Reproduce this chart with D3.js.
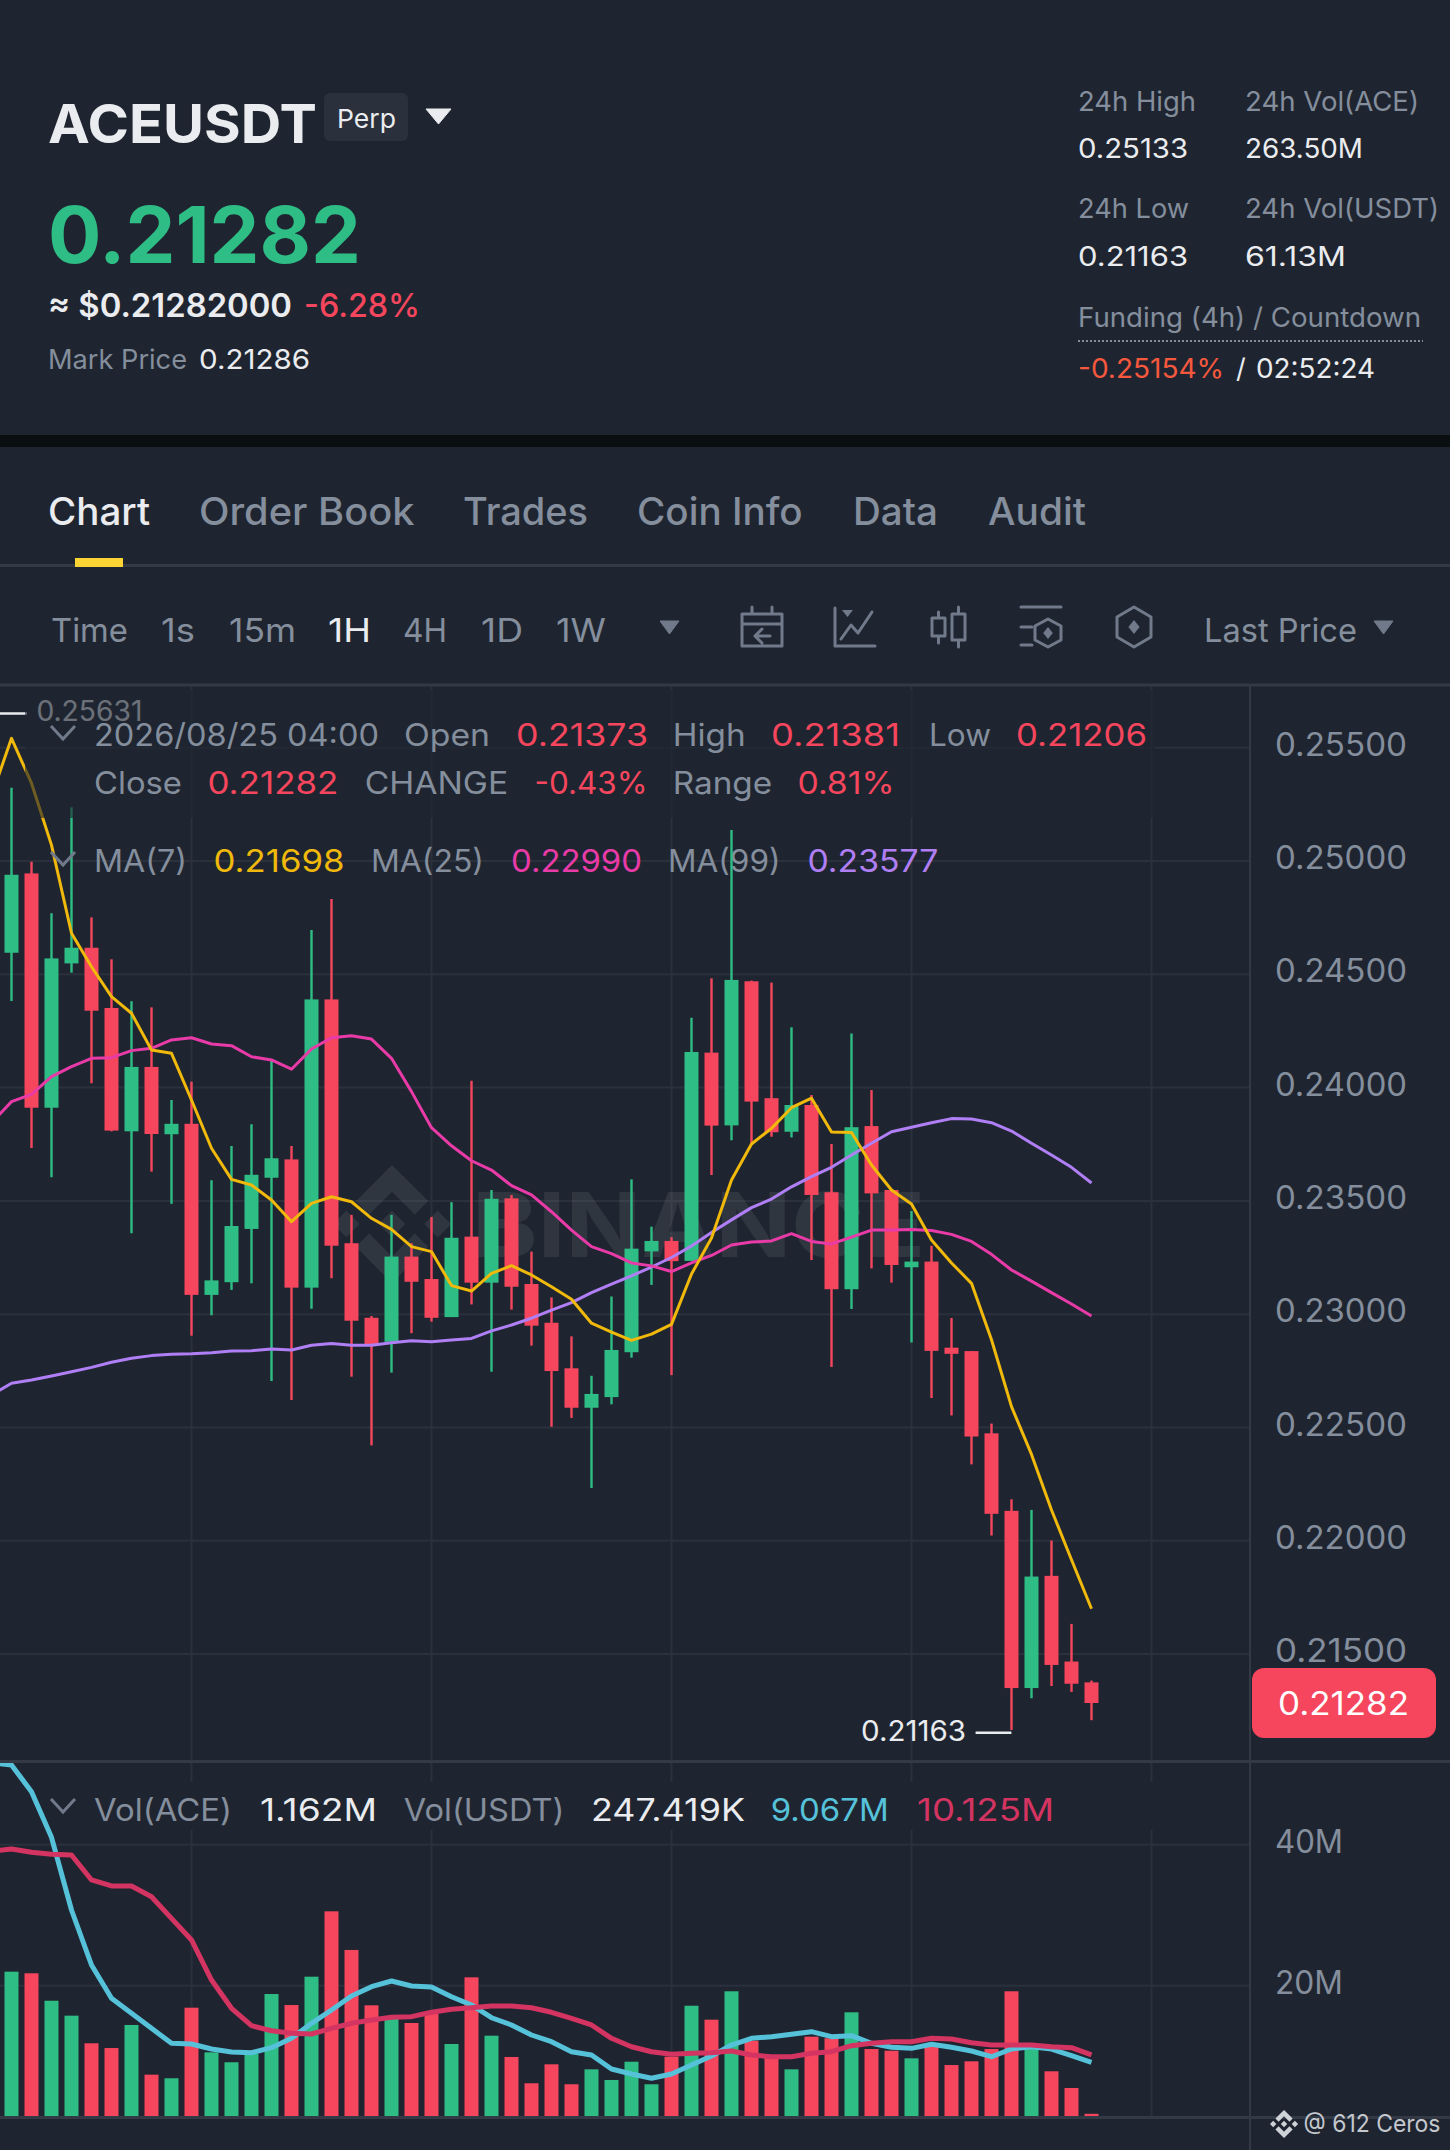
<!DOCTYPE html>
<html>
<head>
<meta charset="utf-8">
<title>ACEUSDT Perp</title>
<script src="https://cdn.jsdelivr.net/npm/d3@7"></script>
<style>
  body { margin: 0; background: #1f2530; }
  svg { display: block; }
  text { font-family: Inter, "Noto Sans", sans-serif; }
</style>
</head>
<body>
<svg id="chart"></svg>
<script>
// candles, oldest first, one per hour
const opens = [0.24593,0.24943,0.23909,0.24546,0.24615,0.24349,0.23805,0.24089,0.23792,0.23838,0.23083,0.23139,0.23374,0.23600,0.23681,0.23115,0.24387,0.23311,0.22982,0.22876,0.23252,0.23153,0.22985,0.23340,0.23137,0.23509,0.23131,0.22960,0.22759,0.22585,0.22632,0.22830,0.23275,0.23321,0.23233,0.24152,0.23831,0.24467,0.23951,0.23803,0.23921,0.23536,0.23108,0.23828,0.23546,0.23205,0.23230,0.22850,0.22835,0.22472,0.22130,0.21348,0.21843,0.21465,0.21373];
const highs = [0.25321,0.24995,0.24767,0.25235,0.24749,0.24564,0.24379,0.24352,0.23943,0.24024,0.23589,0.23740,0.23836,0.24115,0.23740,0.24693,0.24830,0.23436,0.22990,0.23436,0.23311,0.23427,0.23492,0.24028,0.23546,0.23524,0.23274,0.23072,0.22900,0.22726,0.23076,0.23593,0.23384,0.23338,0.24306,0.24480,0.25135,0.24470,0.24461,0.24264,0.23965,0.23749,0.24237,0.23987,0.23546,0.23453,0.23300,0.22981,0.22835,0.22515,0.22181,0.22134,0.21999,0.21631,0.21381];
const lows = [0.24380,0.23731,0.23602,0.24505,0.24017,0.23805,0.23355,0.23627,0.23485,0.22903,0.22993,0.23105,0.23134,0.22703,0.22619,0.23022,0.23156,0.22722,0.22419,0.22740,0.22914,0.22965,0.22985,0.23041,0.22744,0.23018,0.22859,0.22501,0.22540,0.22231,0.22600,0.22806,0.23127,0.22729,0.23233,0.23612,0.23765,0.23752,0.23781,0.23778,0.23237,0.22765,0.23021,0.23200,0.23137,0.22873,0.22628,0.22551,0.22335,0.22021,0.21163,0.21303,0.21357,0.21331,0.21206];
const closes = [0.24937,0.23909,0.24568,0.24615,0.24337,0.23808,0.24089,0.23793,0.23838,0.23083,0.23147,0.23387,0.23613,0.23686,0.23115,0.24387,0.23300,0.22969,0.22862,0.23252,0.23141,0.22982,0.23335,0.23137,0.23507,0.23119,0.22947,0.22747,0.22585,0.22646,0.22840,0.23287,0.23321,0.23232,0.24155,0.23830,0.24473,0.23936,0.23801,0.23921,0.23524,0.23108,0.23823,0.23531,0.23215,0.23230,0.22836,0.22823,0.22458,0.22117,0.21348,0.21840,0.21450,0.21367,0.21282];
// volume in millions of ACE
const volumes = [21.79,21.56,17.67,15.55,11.63,10.96,14.23,7.18,6.67,16.68,10.35,8.94,10.11,18.62,17.06,21.08,30.35,24.87,17.02,15.08,14.51,15.79,11.53,20.99,12.71,9.69,5.96,8.65,5.82,7.94,6.43,9.02,5.82,9.73,16.96,14.98,19.01,12.00,9.97,7.94,12.57,12.34,16.03,10.82,10.58,9.50,11.53,8.55,9.08,10.82,19.01,11.29,7.66,5.29,1.162];

// moving averages start one candle earlier, off the left edge
const ma7 = [0.25285,0.25539,0.25341,0.25068,0.24679,0.24531,0.24399,0.24326,0.24164,0.24149,0.23943,0.23730,0.23593,0.23568,0.23502,0.23406,0.23487,0.23516,0.23494,0.23421,0.23372,0.23296,0.23274,0.23124,0.23100,0.23178,0.23212,0.23171,0.23119,0.23064,0.22958,0.22919,0.22882,0.22910,0.22953,0.23175,0.23334,0.23590,0.23749,0.23818,0.23909,0.23951,0.23802,0.23800,0.23656,0.23546,0.23484,0.23325,0.23224,0.23134,0.22885,0.22590,0.22379,0.22134,0.21914,0.21698];
const ma25 = [0.23842,0.23936,0.23968,0.24046,0.24090,0.24127,0.24130,0.24161,0.24171,0.24208,0.24218,0.24190,0.24183,0.24134,0.24120,0.24079,0.24168,0.24218,0.24227,0.24212,0.24127,0.23980,0.23821,0.23741,0.23675,0.23634,0.23565,0.23524,0.23450,0.23369,0.23296,0.23265,0.23224,0.23211,0.23186,0.23224,0.23257,0.23303,0.23316,0.23321,0.23353,0.23319,0.23308,0.23338,0.23369,0.23369,0.23372,0.23367,0.23350,0.23319,0.23262,0.23193,0.23144,0.23093,0.23043,0.22990];
const ma99 = [0.22641,0.22693,0.22707,0.22725,0.22744,0.22763,0.22786,0.22803,0.22815,0.22821,0.22823,0.22828,0.22835,0.22837,0.22844,0.22840,0.22861,0.22868,0.22861,0.22861,0.22872,0.22881,0.22876,0.22884,0.22891,0.22924,0.22950,0.22980,0.23016,0.23049,0.23093,0.23131,0.23167,0.23206,0.23248,0.23299,0.23358,0.23414,0.23468,0.23506,0.23560,0.23605,0.23646,0.23700,0.23752,0.23803,0.23823,0.23843,0.23861,0.23859,0.23843,0.23806,0.23752,0.23700,0.23646,0.23577];
const volMaAce = [51.53,51.25,47.46,40.99,30.68,22.88,18.16,16.03,13.90,11.77,11.67,10.96,10.54,10.44,11.15,12.48,14.61,16.50,18.48,19.80,20.61,19.90,19.76,18.38,17.21,15.40,14.37,12.95,12.00,10.58,10.11,8.13,7.42,6.81,7.42,8.70,9.97,11.53,12.48,12.71,13.05,13.42,12.71,12.85,11.77,11.21,11.06,11.63,11.21,10.68,9.87,10.96,11.29,10.96,10.01,9.067];
const volMaUsdt = [39.05,39.33,38.87,38.58,38.48,34.94,34.09,34.09,32.57,29.50,26.43,20.75,16.74,14.27,13.56,13.19,13.09,13.90,14.61,15.08,15.46,15.55,16.17,16.60,16.82,17.06,17.06,16.82,16.17,15.32,14.37,12.48,11.29,10.58,10.21,10.35,10.44,10.68,10.11,9.87,9.87,10.35,10.58,11.43,11.77,12.00,12.00,12.48,12.38,11.86,11.53,11.53,11.53,11.29,11.15,10.125];

// axis ticks
const priceTicks = [0.255,0.25,0.245,0.24,0.235,0.23,0.225,0.22,0.215];
const volumeTicks = [40,20];
const timeGridIndex = [9,21,33,45,57];

const GREEN = "#2ebd85", RED = "#f6465d", GRAY = "#848e9c", WHITE = "#eaecef", GRID = "#2a303c", PANEL = "#333a46";
const LOGO = "M16.624 13.9202l2.7175 2.7154-7.353 7.353-7.353-7.352 2.7175-2.7164 4.6355 4.6595 4.6356-4.6595zm4.6366-4.6366L24 12l-2.7154 2.7164L18.5682 12l2.6924-2.7164zm-9.272.001l2.7163 2.6914-2.7164 2.7174v-.001L9.2721 12l2.7164-2.7154zm-9.2722-.001L5.4088 12l-2.6914 2.6924L0 12l2.7164-2.7164zM11.9885.0115l7.353 7.329-2.7174 2.7154-4.6356-4.6356-4.6355 4.6595-2.7174-2.7154 7.353-7.353z";

const width = 1450, height = 2150, axisX = 1250;

const svg = d3.select("#chart").attr("width", width).attr("height", height);
svg.append("rect").attr("width", width).attr("height", height).attr("fill", "#1f2530");

// Scales
const x = d3.scaleLinear().domain([0, 54]).range([11.5, 1091.5]);
const yPrice = d3.scaleLinear().domain([0.255, 0.215]).range([747.2, 1653.6]);
const yVol = d3.scaleLinear().domain([40, 20]).range([1844.3, 1985.3]);

// text helper, w forces the measured width of the reference
function label(parent, str, px, py, size, fill, w, weight) {
  const t = parent.append("text").attr("x", px).attr("y", py)
    .attr("font-size", size).attr("fill", fill)
    .attr("font-weight", weight || 400).text(str);
  if (w) t.attr("textLength", w).attr("lengthAdjust", "spacingAndGlyphs");
  return t;
}

function triangle(parent, x0, x1, y0, y1, fill) {
  parent.append("path")
    .attr("d", `M${x0},${y0}L${x1},${y0}L${(x0 + x1) / 2},${y1}Z`)
    .attr("fill", fill).attr("stroke", fill).attr("stroke-width", 1).attr("stroke-linejoin", "round");
}

function hexagon(cx, cy, w, h) {
  return `M${cx},${cy - h}L${cx + w},${cy - h * 0.5}L${cx + w},${cy + h * 0.5}L${cx},${cy + h}L${cx - w},${cy + h * 0.5}L${cx - w},${cy - h * 0.5}Z`;
}

function diamond(cx, cy, r) {
  return `M${cx},${cy - r}L${cx + r * 0.8},${cy}L${cx},${cy + r}L${cx - r * 0.8},${cy}Z`;
}

// ---- Ticker header ----
const head = svg.append("g");
label(head, "ACEUSDT", 48, 143, 54, WHITE, 269, 700);
head.append("rect").attr("x", 324).attr("y", 93).attr("width", 84).attr("height", 48).attr("rx", 6).attr("fill", "#2a303c");
label(head, "Perp", 337, 128, 26, WHITE, 59);
triangle(head, 426, 451, 109, 124, WHITE);

label(head, "0.21282", 48, 263, 78, GREEN, 313, 700);
label(head, "≈ $0.21282000", 48, 317, 32, WHITE, 244, 600);
label(head, "-6.28%", 304, 317, 32, RED, 116, 500);
label(head, "Mark Price", 48, 368.6, 27, GRAY, 139);
label(head, "0.21286", 199, 368.6, 27, WHITE, 111);

label(head, "24h High", 1078, 110.6, 27, GRAY, 118);
label(head, "24h Vol(ACE)", 1245, 110.6, 27, GRAY, 174);
label(head, "0.25133", 1078, 158.3, 27, WHITE, 110);
label(head, "263.50M", 1245, 158.3, 27, WHITE, 118);
label(head, "24h Low", 1078, 218, 27, GRAY, 111);
label(head, "24h Vol(USDT)", 1245, 218, 27, GRAY, 194);
label(head, "0.21163", 1078, 265.8, 27, WHITE, 110);
label(head, "61.13M", 1245, 265.8, 27, WHITE, 101);
label(head, "Funding (4h) / Countdown", 1078, 326.5, 27, GRAY, 343);
head.append("line").attr("x1", 1078).attr("x2", 1423).attr("y1", 341).attr("y2", 341)
  .attr("stroke", GRAY).attr("stroke-width", 2).attr("stroke-dasharray", "2 2");
label(head, "-0.25154%", 1078, 377.7, 27, "#f6583e", 146);
label(head, "/", 1236, 377.7, 27, WHITE);
label(head, "02:52:24", 1256, 377.7, 27, WHITE, 119);

// black band between the two cards
head.append("rect").attr("x", 0).attr("y", 435).attr("width", width).attr("height", 12).attr("fill", "#0b0e11");

// ---- Tabs ----
const tabs = svg.append("g");
label(tabs, "Chart", 48, 524.7, 38, WHITE, 102, 500);
label(tabs, "Order Book", 199, 524.7, 38, GRAY, 215.5, 500);
label(tabs, "Trades", 463, 524.7, 38, GRAY, 125, 500);
label(tabs, "Coin Info", 637, 524.7, 38, GRAY, 165.6, 500);
label(tabs, "Data", 853, 524.7, 38, GRAY, 85, 500);
label(tabs, "Audit", 988, 524.7, 38, GRAY, 98, 500);
tabs.append("rect").attr("x", 0).attr("y", 564).attr("width", width).attr("height", 3).attr("fill", PANEL);
tabs.append("rect").attr("x", 75).attr("y", 558).attr("width", 48).attr("height", 9).attr("fill", "#fcd535");

// ---- Interval toolbar ----
const bar = svg.append("g");
label(bar, "Time", 51, 641.8, 33, GRAY, 77);
label(bar, "1s", 161, 641.8, 33, GRAY, 34);
label(bar, "15m", 229, 641.8, 33, GRAY, 67);
label(bar, "1H", 328, 641.8, 33, WHITE, 43);
label(bar, "4H", 403, 641.8, 33, GRAY, 44);
label(bar, "1D", 481, 641.8, 33, GRAY, 42);
label(bar, "1W", 556, 641.8, 33, GRAY, 50);
label(bar, "Last Price", 1204, 641.8, 33, GRAY, 153);
triangle(bar, 660, 679, 621, 634, "#707a8a");
triangle(bar, 1374, 1393, 621, 634, "#707a8a");

const icons = bar.append("g").attr("fill", "none").attr("stroke", "#707a8a").attr("stroke-width", 3)
  .attr("stroke-linejoin", "round").attr("stroke-linecap", "round");
// calendar
icons.append("path").attr("d", "M742,614H782V646H742ZM742,624H782M752,607V613M772,607V613M770,636H755M762,629L755,636L762,643");
// line chart
icons.append("path").attr("d", "M835,608V646H875M841,639L851,625L858,633L872,612");
icons.append("path").attr("d", "M842,610H853L847.5,617Z").attr("fill", "#707a8a").attr("stroke", "none");
// candles
icons.append("path").attr("d", "M932,618H945V636H932ZM938.5,612V618M938.5,636V643M952,614H965V640H952ZM958.5,607V614M958.5,640V647");
// indicators
icons.append("path").attr("d", "M1021,607H1061M1021,627H1032M1021,645H1032");
icons.append("path").attr("d", hexagon(1048, 633, 13, 14));
icons.append("path").attr("d", diamond(1048, 633, 6)).attr("fill", "#707a8a").attr("stroke", "none");
// settings hexagon
icons.append("path").attr("d", hexagon(1134, 627, 17, 20));
icons.append("path").attr("d", diamond(1134, 627, 7)).attr("fill", "#707a8a").attr("stroke", "none");

// ---- Grid and pane borders ----
const grid = svg.append("g");
grid.selectAll(".vgrid").data(timeGridIndex).join("line").attr("class", "vgrid")
  .attr("x1", d => x(d)).attr("x2", d => x(d)).attr("y1", 686).attr("y2", 2117)
  .attr("stroke", GRID).attr("stroke-width", 2);

const priceGrid = d3.axisLeft(yPrice).tickValues(priceTicks).tickSize(axisX).tickFormat("");
const priceGridGroup = grid.append("g").attr("transform", `translate(${axisX},0)`).call(priceGrid);
const volGrid = d3.axisLeft(yVol).tickValues(volumeTicks).tickSize(axisX).tickFormat("");
const volGridGroup = grid.append("g").attr("transform", `translate(${axisX},0)`).call(volGrid);
grid.selectAll(".domain").remove();
grid.selectAll(".tick line").attr("stroke", GRID).attr("stroke-width", 2);

// legend background of the volume pane hides the grid behind it
grid.append("rect").attr("x", 25).attr("y", 1782).attr("width", 1130).attr("height", 48).attr("fill", "#1f2530");

const panes = svg.append("g");
panes.append("rect").attr("x", 0).attr("y", 683.5).attr("width", width).attr("height", 3).attr("fill", PANEL);
panes.append("rect").attr("x", 0).attr("y", 1760).attr("width", width).attr("height", 3).attr("fill", PANEL);
panes.append("rect").attr("x", 0).attr("y", 2116).attr("width", width).attr("height", 3).attr("fill", PANEL);
panes.append("rect").attr("x", axisX - 1).attr("y", 685).attr("width", 2).attr("height", height - 685).attr("fill", PANEL);

// ---- Watermark ----
const mark = svg.append("g").attr("opacity", 0.075);
mark.append("path").attr("d", LOGO).attr("fill", "#fff").attr("transform", "translate(333,1165) scale(4.92)");
label(mark, "BINANCE", 472, 1257, 90, "#fff", 453, 700);

// MA legend row sits under the candles
const maLegend = svg.append("g");
label(maLegend, "MA(7)", 94, 871.7, 31, GRAY, 93);
label(maLegend, "0.21698", 213.5, 871.7, 31, "#f0b90b", 131);
label(maLegend, "MA(25)", 371, 871.7, 31, GRAY, 113);
label(maLegend, "0.22990", 511, 871.7, 31, "#e83ba8", 131);
label(maLegend, "MA(99)", 668, 871.7, 31, GRAY, 112.5);
label(maLegend, "0.23577", 807.4, 871.7, 31, "#b07ff5", 131);

// ---- Candles ----
const candleData = closes.map((c, i) => ({ i, open: opens[i], high: highs[i], low: lows[i], close: c, vol: volumes[i] }));
const color = d => d.close >= d.open ? GREEN : RED;

svg.append("defs").append("clipPath").attr("id", "pane-mask")
  .append("rect").attr("x", 0).attr("y", 687).attr("width", axisX).attr("height", 1073);
svg.select("defs").append("clipPath").attr("id", "vol-mask")
  .append("rect").attr("x", 0).attr("y", 1763).attr("width", axisX).attr("height", 353);

const main = svg.append("g").attr("clip-path", "url(#pane-mask)");

main.selectAll(".wick").data(candleData).join("line").attr("class", "wick")
  .attr("x1", d => x(d.i)).attr("x2", d => x(d.i))
  .attr("y1", d => yPrice(d.high)).attr("y2", d => yPrice(d.low))
  .attr("stroke", color).attr("stroke-width", 2.4);

main.selectAll(".body").data(candleData).join("rect").attr("class", "body")
  .attr("x", d => x(d.i) - 7).attr("width", 14)
  .attr("y", d => yPrice(Math.max(d.open, d.close)))
  .attr("height", d => Math.max(2, Math.abs(yPrice(d.open) - yPrice(d.close))))
  .attr("fill", color);

// moving averages, first point is index -1
const maLine = d3.line().x((d, i) => x(i - 1)).y(d => yPrice(d));
[[ma99, "#b07ff5"], [ma25, "#e83ba8"], [ma7, "#f0b90b"]].forEach(([series, stroke]) => {
  main.append("path").datum(series).attr("d", maLine)
    .attr("fill", "none").attr("stroke", stroke).attr("stroke-width", 3).attr("stroke-linejoin", "round");
});

// period high marker, its label ends up dimmed by the legend box
label(svg, "0.25631", 36.4, 720.7, 28, WHITE, 106);
svg.append("line").attr("x1", 0).attr("x2", 27).attr("y1", 713.5).attr("y2", 713.5).attr("stroke", WHITE).attr("stroke-width", 2.5);

// ---- OHLC legend with translucent box ----
svg.append("rect").attr("x", 25).attr("y", 690).attr("width", 1130).attr("height", 128).attr("fill", "#1f2530").attr("fill-opacity", 0.62);

const ohlc = svg.append("g");
label(ohlc, "2026/08/25 04:00", 94, 746, 31, GRAY, 285);
label(ohlc, "Open", 404, 746, 31, GRAY, 86);
label(ohlc, "0.21373", 516, 746, 31, RED, 132);
label(ohlc, "High", 672.7, 746, 31, GRAY, 73);
label(ohlc, "0.21381", 771, 746, 31, RED, 129);
label(ohlc, "Low", 929, 746, 31, GRAY, 62);
label(ohlc, "0.21206", 1016, 746, 31, RED, 131);
label(ohlc, "Close", 94, 794, 31, GRAY, 88);
label(ohlc, "0.21282", 207.4, 794, 31, RED, 131);
label(ohlc, "CHANGE", 364.7, 794, 31, GRAY, 143.5);
label(ohlc, "-0.43%", 534.6, 794, 31, RED, 113);
label(ohlc, "Range", 672.7, 794, 31, GRAY, 99.5);
label(ohlc, "0.81%", 797.5, 794, 31, RED, 97);

// collapse chevrons
[[726, 739], [852, 865], [1799, 1812]].forEach(([y0, y1]) => {
  svg.append("path").attr("d", `M51,${y0}L63,${y1}L75,${y0}`)
    .attr("fill", "none").attr("stroke", "#707a8a").attr("stroke-width", 3);
});

// period low marker
label(svg, "0.21163", 861, 1740.8, 28, WHITE, 105);
svg.append("line").attr("x1", 975.6).attr("x2", 1011.4).attr("y1", 1732.7).attr("y2", 1732.7).attr("stroke", WHITE).attr("stroke-width", 2.5);

// ---- Price axis ----
const priceAxis = d3.axisRight(yPrice).tickValues(priceTicks).tickSize(0).tickPadding(25)
  .tickFormat(d3.format(".5f"));
const priceAxisGroup = svg.append("g").attr("transform", `translate(${axisX},0)`).call(priceAxis);
priceAxisGroup.select(".domain").remove();
priceAxisGroup.selectAll("text").attr("font-size", 32).attr("fill", GRAY).attr("dy", "0.25em")
  .attr("font-family", "Inter").attr("textLength", 132).attr("lengthAdjust", "spacingAndGlyphs");

// current price tag
svg.append("rect").attr("x", 1252).attr("y", yPrice(closes[54]) - 35).attr("width", 184).attr("height", 70).attr("rx", 12).attr("fill", RED);
label(svg, d3.format(".5f")(closes[54]), 1278, 1715, 32, "#fff", 131);

// ---- Volume pane ----
const vol = svg.append("g").attr("clip-path", "url(#vol-mask)");
const volBase = yVol(d3.min(volumes));

vol.selectAll(".volbar").data(candleData).join("rect").attr("class", "volbar")
  .attr("x", d => x(d.i) - 7).attr("width", 14)
  .attr("y", d => Math.min(yVol(d.vol), volBase - 3.3))
  .attr("height", d => Math.max(3.3, volBase - yVol(d.vol)))
  .attr("transform", "translate(0,-1)")
  .attr("fill", color);

const volLine = d3.line().x((d, i) => x(i - 1)).y(d => yVol(d));
[[volMaAce, "#56c2da"], [volMaUsdt, "#d43461"]].forEach(([series, stroke]) => {
  vol.append("path").datum(series).attr("d", volLine)
    .attr("fill", "none").attr("stroke", stroke).attr("stroke-width", 5).attr("stroke-linejoin", "round");
});

const volLegend = svg.append("g");
label(volLegend, "Vol(ACE)", 94, 1820.7, 31, GRAY, 138);
label(volLegend, "1.162M", 260, 1820.7, 31, WHITE, 117);
label(volLegend, "Vol(USDT)", 403.7, 1820.7, 31, GRAY, 160.7);
label(volLegend, "247.419K", 591, 1820.7, 31, WHITE, 154);
label(volLegend, "9.067M", 770.7, 1820.7, 31, "#56c2da", 118);
label(volLegend, "10.125M", 917, 1820.7, 31, "#d43461", 137);

const volAxis = d3.axisRight(yVol).tickValues(volumeTicks).tickSize(0).tickPadding(25).tickFormat(d => d + "M");
const volAxisGroup = svg.append("g").attr("transform", `translate(${axisX},0)`).call(volAxis);
volAxisGroup.select(".domain").remove();
volAxisGroup.selectAll("text").attr("font-size", 32).attr("fill", GRAY).attr("dy", "0.25em")
  .attr("font-family", "Inter").attr("textLength", 68).attr("lengthAdjust", "spacingAndGlyphs");

// ---- Square post credit ----
const credit = svg.append("g");
credit.append("path").attr("d", LOGO).attr("fill", "#cfd3d8").attr("transform", "translate(1270,2110) scale(1.17)");
label(credit, "@ 612 Ceros", 1303.5, 2132, 24, "#c4c8ce", 137);
</script>
</body>
</html>
